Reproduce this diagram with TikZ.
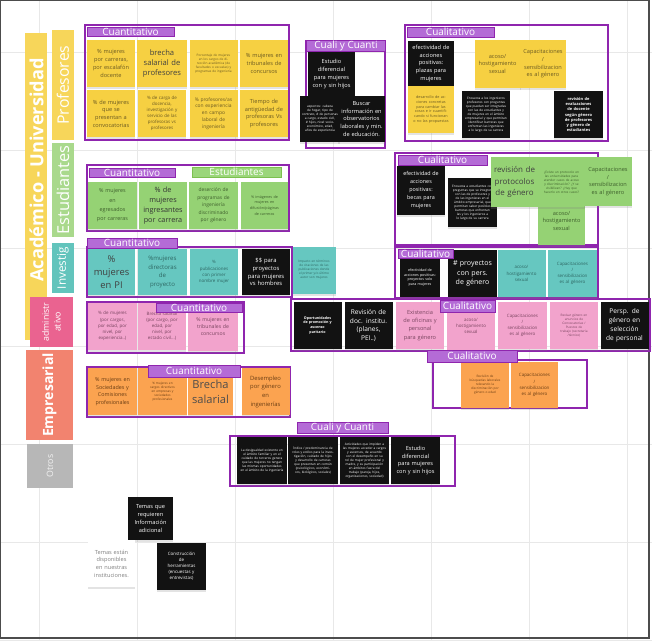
\documentclass[tikz,border=0pt]{standalone}
\usepackage{fontspec}
\setmainfont{Open Sans}
\usepackage{tikz}
\usetikzlibrary{shadows}
\definecolor{amarillo}{HTML}{F6D042}
\definecolor{barraam}{HTML}{F7D65A}
\definecolor{verde}{HTML}{95D274}
\definecolor{barrave}{HTML}{A9D98C}
\definecolor{turquesa}{HTML}{66C7C0}
\definecolor{barratu}{HTML}{62C4BC}
\definecolor{rosa}{HTML}{F2A3CC}
\definecolor{barraro}{HTML}{EA6390}
\definecolor{naranja}{HTML}{FBA350}
\definecolor{barrasa}{HTML}{F2836F}
\definecolor{barragr}{HTML}{B7B7B7}
\definecolor{negro}{HTML}{121212}
\definecolor{morado}{HTML}{8F25AE}
\definecolor{lila}{HTML}{B46BD6}
\definecolor{verdetag}{HTML}{9BD67A}
\definecolor{verdeborde}{HTML}{7CC04F}
\definecolor{rejilla}{HTML}{E8E8E8}
\definecolor{tam}{HTML}{6B5A22}
\definecolor{tve}{HTML}{3E5F2C}
\definecolor{ttu}{HTML}{2E6763}
\definecolor{tro}{HTML}{7A4560}
\definecolor{tna}{HTML}{6B3E14}
\begin{document}
\begin{tikzpicture}[x=0.03cm, y=-0.03cm,
    note/.style={rectangle, minimum width=1.44cm, minimum height=1.41cm, text width=1.3cm, inner sep=0pt, align=center, font=\fontsize{4.8}{6.6}\selectfont, drop shadow={opacity=0.22, shadow xshift=0pt, shadow yshift=-0.06cm}},
    notey/.style={note, fill=amarillo, text=tam},
    noteg/.style={note, fill=verde, text=tve},
    notet/.style={note, fill=turquesa, text=ttu},
    notep/.style={note, fill=rosa, text=tro},
    noteo/.style={note, fill=naranja, text=tna},
    noten/.style={note, fill=negro, text=white},
    notew/.style={note, fill=white, text=gray},
    diminuta/.style={font=\fontsize{2.7}{3.4}\selectfont},
    chica/.style={font=\fontsize{3.8}{5.2}\selectfont},
    grupo/.style={draw=morado, line width=1.5pt},
    etiqueta/.style={fill=lila, draw=morado, line width=0.8pt, text=white, inner sep=0pt, font=\fontsize{8.5}{9}\selectfont},
    barra/.style={rotate=90, inner sep=0pt, text=white, align=center, minimum height=0.66cm}]
    \useasboundingbox (0,0) rectangle (652,641);
    \fill[white] (0,0) rectangle (652,641);
    \foreach \x in {39,137,...,627} \draw[rejilla, line width=0.6pt] (\x,0) -- (\x,641);
    \foreach \y in {52,150,...,640} \draw[rejilla, line width=0.6pt] (0,\y) -- (652,\y);
    \draw[black!70, line width=1pt] (0.5,0.5) rectangle (649,638);

    \node[barra, fill=barraam, minimum width=9.21cm] (acad) at (36,186.5) {};
    \node[rotate=90, text=white, font=\bfseries\fontsize{15.5}{18}\selectfont] (acadtxt) at (36.5,170) {Académico - Universidad};
    \node[barra, fill=barraam, minimum width=3.3cm, font=\fontsize{13.5}{15}\selectfont] (prof) at (63,85) {Profesores};
    \node[barra, fill=barrave, minimum width=2.82cm, font=\fontsize{14}{16}\selectfont] (est) at (63,190) {Estudiantes};
    \node[barra, fill=barratu, minimum width=1.5cm, font=\fontsize{10}{11}\selectfont] (inv) at (63,268) {Investig};
    \node[barra, fill=barraro, minimum width=1.5cm, minimum height=1.29cm, font=\fontsize{7.5}{10}\selectfont] (adm) at (51.5,322) {administr\\ativo};
    \node[barra, fill=barrasa, minimum width=2.7cm, minimum height=1.41cm, font=\bfseries\fontsize{12}{14}\selectfont] (emp) at (49.5,395) {Empresarial};
    \node[barra, fill=barragr, minimum width=1.32cm, minimum height=1.38cm, text=white!90!gray, font=\fontsize{7.5}{8}\selectfont] (otros) at (50,466) {Otros};

    \draw[grupo] (85,25) rectangle (289,140);
    \draw[grupo] (306,41) rectangle (385,148);
    \draw[grupo] (405,25) rectangle (608,141);
    \draw[grupo] (87,165) rectangle (289,231);
    \draw[grupo] (395,153) rectangle (598,245);
    \draw[grupo] (87,247) rectangle (292,297);
    \draw[grupo] (395,247) rectangle (598,298);
    \draw[grupo] (87,302) rectangle (244,353);
    \draw[grupo] (291,299) rectangle (650,351);
    \draw[grupo] (87,367) rectangle (290,417);
    \draw[grupo] (433,360) rectangle (587,408);
    \draw[grupo] (230,436) rectangle (455,486);

    \node[notey] (p11) at (111,63.5) {\% mujeres\\ por carreras,\\ por escalafón\\ docente};
    \node[notey, minimum width=1.5cm, font=\fontsize{6.5}{8.8}\selectfont, text=black!75] (p12) at (162,63.5) {brecha\\ salarial de\\ profesores};
    \node[notey, diminuta, text width=1.15cm] (p13) at (213.5,63.5) {Porcentaje de mujeres en los cargos de dirección académica (de facultades o escuelas) y programas de ingeniería};
    \node[notey] (p14) at (264,63.5) {\% mujeres en\\ tribunales de\\ concursos};
    \node[notey] (p21) at (111,113.5) {\% de mujeres\\ que se\\ presentan a\\ convocatorias};
    \node[notey, chica] (p22) at (162,113.5) {\% de carga de\\ docencia,\\ investigación y\\ servicio de las\\ profesoras vs\\ profesores};
    \node[notey, font=\fontsize{4.2}{5.8}\selectfont] (p23) at (213.5,113.5) {\% profesores/as\\ con experiencia\\ en campo\\ laboral de\\ ingeniería};
    \node[notey] (p24) at (264,113.5) {Tiempo de\\ antigüedad de\\ profesoras Vs\\ profesores};

    \node[noten, minimum width=1.41cm, minimum height=1.32cm] (cc1) at (331.5,74) {Estudio\\ diferencial\\ para mujeres\\ con y sin hijos};
    \node[noten, diminuta, minimum width=1.2cm, minimum height=1.38cm, text width=1.08cm] (cc2) at (320,119) {aspectos: cabeza de hogar, tipo de contrato, \# de personas a cargo, estado civil, \# hijos, nivel socio-económico, edad, años de experiencia};
    \node[noten, minimum width=1.41cm, minimum height=1.38cm] (cc3) at (361.5,119) {Buscar\\ información en\\ observatorios\\ laborales y min.\\ de educación.};

    \node[noten, minimum width=1.38cm, minimum height=1.35cm] (q1) at (431,63.5) {efectividad de\\ acciones\\ positivas:\\ plazas para\\ mujeres};
    \node[notey, minimum width=1.38cm, font=\fontsize{3.2}{4}\selectfont, text width=1.15cm] (q2) at (431,109.5) {desarrollo de acciones concretas para cambiar las cosas e ir cuantificando si funcionan o no las propuestas};
    \node[notey, minimum width=1.38cm, minimum height=1.44cm] (q3) at (497.5,64) {acoso/\\ hostigamiento\\ sexual};
    \node[notey, minimum width=1.38cm, minimum height=1.44cm] (q4) at (543,64) {Capacitaciones\\ /\\ sensibilizacion\\ es al género};
    \node[noten, diminuta] (q5) at (486,114.5) {Encuesta a los ingenieros profesores con preguntas que puedan ser integradas con las de estudiantes y de mujeres en el ámbito empresarial y que permitan identificar barreras que enfrentan las ingenieras a lo largo de su carrera};
    \node[noten, minimum width=1.47cm, font=\bfseries\fontsize{3.4}{4.4}\selectfont, text width=1.1cm] (q6) at (578.5,114.5) {revisión de evaluaciones de docente según género de profesores y género de estudiantes};

    \node[noteg, minimum width=1.47cm, font=\fontsize{4.6}{8}\selectfont] (s1) at (112.5,205.5) {\% mujeres\\ en\\ egresados\\ por carreras};
    \node[noteg, font=\fontsize{6.2}{8.6}\selectfont, text=black!80] (s2) at (163,205.5) {\% de\\ mujeres\\ ingresantes\\ por carrera};
    \node[noteg, minimum width=1.47cm, font=\fontsize{4.2}{6.4}\selectfont] (s3) at (213.5,205.5) {deserción de\\ programas de\\ ingeniería\\ discriminado\\ por género};
    \node[noteg, minimum width=1.41cm, font=\fontsize{3.2}{5}\selectfont] (s4) at (264.5,205.5) {\% imágenes de\\ mujeres en\\ difusión/páginas\\ de carreras};

    \node[noten, minimum height=1.47cm, font=\fontsize{4.6}{6.8}\selectfont] (e1) at (421,190.5) {efectividad de\\ acciones\\ positivas:\\ becas para\\ mujeres};
    \node[noten, diminuta, minimum width=1.47cm, minimum height=1.47cm] (e2) at (472.5,202.5) {Encuesta a estudiantes con preguntas que se integren con las de profesores y de las ingenieras en el ámbito empresarial, que permitan saber posibles barreras que enfrentan las y los ingenieros a lo largo de su carrera};
    \node[noteg, minimum width=1.41cm, minimum height=1.44cm] (e6) at (561.5,221) {acoso/\\ hostigamiento\\ sexual};
    \node[noteg, minimum width=1.41cm, minimum height=1.5cm, font=\fontsize{6.8}{9.6}\selectfont, text=black!75] (e3) at (514.5,182) {revisión de\\ protocolos\\ de género};
    \node[noteg, minimum width=1.41cm, minimum height=1.5cm, diminuta, text width=1.2cm] (e4) at (561.5,182) {¿Existe un protocolo en las universidades para atender casos de acoso y discriminación? ¿Y se visibilizan? ¿Hay que hacerlo en otros casos?};
    \node[noteg, minimum height=1.47cm] (e5) at (608,181.5) {Capacitaciones\\ /\\ sensibilizacion\\ es al género};

    \node[notet, minimum width=1.41cm, minimum height=1.38cm, font=\fontsize{8}{11}\selectfont, text=black!75] (i1) at (111.5,272) {\%\\ mujeres\\ en PI};
    \node[notet, minimum width=1.47cm, minimum height=1.38cm, font=\fontsize{5.2}{7.2}\selectfont] (i2) at (162.5,272) {\%mujeres\\ directoras\\ de\\ proyecto};
    \node[notet, chica, minimum height=1.38cm] (i3) at (214,272) {\%\\ publicaciones\\ con primer\\ nombre mujer};
    \node[noten, minimum height=1.38cm, font=\fontsize{5}{6.6}\selectfont] (i4) at (266,272) {\$\$ para\\ proyectos\\ para mujeres\\ vs hombres};
    \node[notet, diminuta, minimum width=1.29cm, minimum height=1.41cm, text width=1.15cm] (i5) at (314,270) {Impacto en términos de citaciones de las publicaciones donde el primer y/o último autor son mujeres};

    \node[noten, minimum width=1.2cm, minimum height=1.17cm, text width=1.05cm, font=\fontsize{3.1}{4}\selectfont] (v1) at (420,277.5) {efectividad de acciones positivas: proyectos solo para mujeres};
    \node[noten, minimum width=1.47cm, font=\fontsize{6}{8}\selectfont] (v2) at (472.5,273.5) {\# proyectos\\ con pers.\\ de género};
    \node[notet, chica] (v3) at (521.5,273.5) {acoso/\\ hostigamiento\\ sexual};
    \node[notet, chica, minimum width=1.47cm] (v4) at (572.5,273.5) {Capacitaciones\\ /\\ sensibilizacion\\ es al género};

    \node[notep, chica, minimum width=1.47cm] (a1) at (112.5,326) {\% de mujeres\\ (por cargos,\\ por edad, por\\ nivel, por\\ experiencia..)};
    \node[notep, chica] (a2) at (162,326) {Brecha salarial\\ (por cargo, por\\ edad, por\\ nivel, por\\ estado civil...)};
    \node[notep, minimum width=1.5cm, font=\fontsize{4.4}{6}\selectfont] (a3) at (213,327) {\% mujeres en\\ tribunales de\\ concursos};

    \node[noten, font=\bfseries\fontsize{3.1}{4.2}\selectfont] (b1) at (317.5,325.5) {Oportunidades\\ de promoción y\\ ascenso\\ paritario};
    \node[noten, font=\fontsize{5.6}{7.6}\selectfont] (b2) at (368.5,325.5) {Revisión de\\ doc. institu.\\ (planes,\\ PEI..)};
    \node[notep, font=\fontsize{4.8}{7}\selectfont] (b3) at (420,325.5) {Existencia\\ de oficinas y\\ personal\\ para género};
    \node[notep, chica] (b4) at (471,326) {acoso/\\ hostigamiento\\ sexual};
    \node[notep, chica, minimum width=1.47cm] (b5) at (522.5,325.5) {Capacitaciones\\ /\\ sensibilizacion\\ es al género};
    \node[notep, diminuta] (b6) at (574,325.5) {Revisar género en\\ anuncios de\\ Convocatorias /\\ Puestos de\\ trabajo (secretaria\\ /técnico)};
    \node[noten, font=\fontsize{5.6}{7.6}\selectfont] (b7) at (624.5,325.5) {Persp. de\\ género en\\ selección\\ de personal};

    \node[noteo, minimum width=1.47cm, font=\fontsize{4.6}{6.5}\selectfont] (m1) at (112.5,391.5) {\% mujeres en\\ Sociedades y\\ Comisiones\\ profesionales};
    \node[noteo, minimum width=1.47cm, diminuta] (m2) at (162.5,391.5) {\% mujeres en\\ cargos directivos\\ en empresas y\\ sociedades\\ profesionales};
    \node[noteo, minimum width=1.35cm, font=\fontsize{9.5}{13}\selectfont, text=black!70] (m3) at (210.5,391.5) {Brecha\\ salarial};
    \node[noteo, font=\fontsize{5}{7.4}\selectfont] (m4) at (265.5,391.5) {Desempleo\\ por género\\ en\\ ingenierías};

    \node[noteo, diminuta, minimum height=1.38cm] (r1) at (485,385) {Revisión de\\ búsquedas laborales\\ relevando la\\ discriminación por\\ género o edad};
    \node[noteo, chica, minimum width=1.41cm, minimum height=1.38cm] (r2) at (534.5,385) {Capacitaciones\\ /\\ sensibilizacion\\ es al género};

    \node[noten, diminuta, minimum width=1.5cm] (o1) at (262,460.5) {La desigualdad existente en el ámbito familiar y en el cuidado de terceros genera que las mujeres no tengan las mismas oportunidades en el ámbito de la ingeniería};
    \node[noten, diminuta, minimum width=1.5cm] (o2) at (313,460.5) {Índice / predominancia de roles y estilos para la investigación, cuidado de hijos y desarrollo de carreras que presentan en común (psicológicos, económicos, biológicos, sociales)};
    \node[noten, diminuta, minimum width=1.47cm] (o3) at (364.5,460.5) {Actividades que impiden a las mujeres acceder a cargos y ascensos, de acuerdo con el desempeño en su rol de mujer profesional y madre, y su participación en ámbitos fuera del trabajo (pareja, hijos, organizaciones, sociedad)};
    \node[noten, minimum width=1.47cm] (o4) at (415.5,460.5) {Estudio\\ diferencial\\ para mujeres\\ con y sin hijos};

    \node[noten, minimum width=1.35cm, minimum height=1.29cm] (t1) at (150.5,518.5) {Temas que\\ requieren\\ Información\\ adicional};
    \node[notew, minimum width=1.41cm] (t2) at (111.5,563.5) {Temas están\\ disponibles\\ en nuestras\\ instituciones.};
    \node[noten, chica, minimum width=1.47cm] (t3) at (181.5,566) {Construcción\\ de\\ herramientas\\ (encuestas y\\ entrevistas)};

    \node[etiqueta, minimum width=2.61cm, minimum height=0.27cm] (tprof) at (130.5,31.5) {Cuantitativo};
    \node[etiqueta, minimum width=2.37cm, minimum height=0.33cm, font=\fontsize{8.5}{9}\selectfont] (tcc) at (346,46) {Cuali y Cuanti};
    \node[etiqueta, minimum width=2.61cm, minimum height=0.3cm] (tqprof) at (450.5,32) {Cualitativo};
    \node[etiqueta, minimum width=2.58cm, minimum height=0.27cm] (testcuan) at (132,173) {Cuantitativo};
    \node[etiqueta, fill=verdetag, draw=verdeborde, minimum width=2.67cm, minimum height=0.3cm] (testest) at (236.5,172) {Estudiantes};
    \node[etiqueta, minimum width=2.67cm, minimum height=0.3cm] (testcual) at (442.5,160) {Cualitativo};
    \node[etiqueta, minimum width=2.7cm, minimum height=0.3cm] (tinvcuan) at (132,243) {Cuantitativo};
    \node[etiqueta, minimum width=1.65cm, minimum height=0.27cm] (tinvcual) at (425.5,253.5) {Cualitativo};
    \node[etiqueta, minimum width=2.58cm, minimum height=0.27cm] (tadmcuan) at (199,307.5) {Cuantitativo};
    \node[etiqueta, minimum width=1.65cm, minimum height=0.36cm] (tadmcual) at (467.5,306) {Cualitativo};
    \node[etiqueta, minimum width=2.76cm, minimum height=0.36cm] (tempcuan) at (194,371) {Cuantitativo};
    \node[etiqueta, minimum width=2.7cm, minimum height=0.36cm] (tempcual) at (472,356) {Cualitativo};
    \node[etiqueta, minimum width=2.73cm, minimum height=0.33cm, font=\fontsize{8.5}{9}\selectfont] (totros) at (342.5,427.5) {Cuali y Cuanti};
\end{tikzpicture}
\end{document}
